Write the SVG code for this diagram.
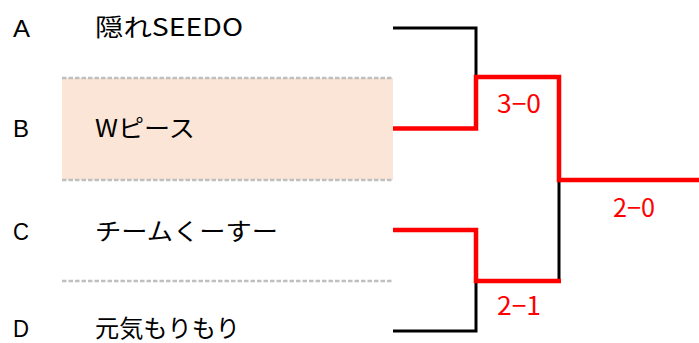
<svg xmlns="http://www.w3.org/2000/svg" width="699" height="343" viewBox="0 0 699 343">
<style>
.lbl{font-family:"Liberation Sans","Noto Sans CJK JP",sans-serif;font-size:24px;fill:#000}
.name{font-family:"Noto Sans CJK JP","Liberation Sans",sans-serif;font-size:24px;fill:#000}
.score{font-family:"Noto Sans CJK JP","Liberation Sans",sans-serif;font-size:25px;fill:#ff0000}
.blk{fill:none;stroke:#000;stroke-width:3}
.red{fill:none;stroke:#ff0000;stroke-width:4.5}
.dash{stroke:#bfbfbf;stroke-width:2.5;stroke-dasharray:4.5 2}
</style>
<rect width="699" height="343" fill="#fff"/>
<rect x="62" y="78" width="331" height="102" fill="#fbe5d6"/>
<line class="dash" x1="62" y1="78" x2="393" y2="78"/>
<line class="dash" x1="62" y1="180" x2="393" y2="180"/>
<line class="dash" x1="62" y1="281" x2="393" y2="281"/>
<g id="teamA"><text class="lbl" x="13" y="37" textLength="17" lengthAdjust="spacingAndGlyphs">A</text><text class="name" x="95" y="36" textLength="148" lengthAdjust="spacingAndGlyphs">隠れSEEDO</text></g>
<g id="teamB"><text class="lbl" x="13" y="137" textLength="16" lengthAdjust="spacingAndGlyphs">B</text><text class="name" x="95" y="137" textLength="100" lengthAdjust="spacingAndGlyphs">Wピース</text></g>
<g id="teamC"><text class="lbl" x="13" y="240" textLength="16" lengthAdjust="spacingAndGlyphs">C</text><text class="name" x="95" y="240" textLength="183" lengthAdjust="spacingAndGlyphs">チームくーすー</text></g>
<g id="teamD"><text class="lbl" x="13" y="337" textLength="16" lengthAdjust="spacingAndGlyphs">D</text><text class="name" x="95" y="337" textLength="145" lengthAdjust="spacingAndGlyphs">元気もりもり</text></g>
<g id="connectors">
<polyline class="blk" points="393,28 476,28 476,78"/>
<polyline class="blk" points="393,331 476,331 476,281"/>
<line class="blk" x1="559" y1="180" x2="559" y2="281"/>
<polyline class="red" points="393,128.5 476,128.5 476,77 559,77 559,180 699,180"/>
<polyline class="red" points="393,230 476,230 476,281 561,281"/>
</g>
<g id="scores">
<text class="score" x="497" y="113" textLength="44" lengthAdjust="spacingAndGlyphs">3−0</text>
<text class="score" x="613" y="217" textLength="42" lengthAdjust="spacingAndGlyphs">2−0</text>
<text class="score" x="497" y="315" textLength="44" lengthAdjust="spacingAndGlyphs">2−1</text>
</g>
</svg>
